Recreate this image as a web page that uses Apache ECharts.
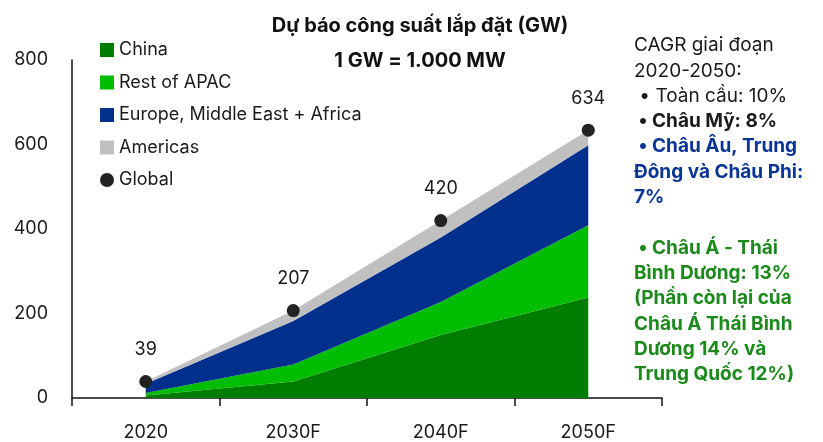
<!DOCTYPE html>
<html>
<head>
<meta charset="utf-8">
<script src="https://cdn.jsdelivr.net/npm/echarts@6/dist/echarts.min.js"></script>
<style>html,body{margin:0;padding:0;background:#fff}#c{width:823px;height:442px}</style>
</head>
<body>
<div id="c"></div>
<script>
const categories = ['2020', '2030F', '2040F', '2050F'];
const china = [6, 39, 149, 238];
const restAPAC = [6, 40, 78, 171];
const emea = [22, 103, 153, 189];
const americas = [5, 25, 40, 36];
const globalTotal = [39, 207, 420, 634];
const yTicks = [0, 200, 400, 600, 800];

const FONT = 'Inter, "Noto Sans", sans-serif';
const chart = echarts.init(document.getElementById('c'));

function areaSeries(name, data, color) {
  return {
    name: name, type: 'line', stack: 'total', data: data,
    symbol: 'none', lineStyle: { width: 0 },
    areaStyle: { color: color, opacity: 1 }, itemStyle: { color: color },
    z: 2
  };
}

chart.setOption({
  animation: false,
  textStyle: { fontFamily: FONT },
  grid: { left: 72, right: 161, top: 60, bottom: 39 },
  legend: {
    orient: 'vertical', left: 95, top: 36,
    itemWidth: 14, itemHeight: 14, itemGap: 14.5,
    textStyle: { fontSize: 18, color: '#1a1a1a', fontFamily: FONT },
    data: [
      { name: 'China', icon: 'rect' },
      { name: 'Rest of APAC', icon: 'rect' },
      { name: 'Europe, Middle East + Africa', icon: 'rect' },
      { name: 'Americas', icon: 'rect' },
      { name: 'Global', icon: 'circle', itemStyle: { color: '#222', opacity: 1 } }
    ]
  },
  xAxis: {
    type: 'category', data: categories, boundaryGap: true,
    axisLine: { lineStyle: { color: '#111', width: 1.5 } },
    axisTick: { show: true, length: 8, lineStyle: { color: '#111', width: 1.5 } },
    axisLabel: { fontSize: 18, color: '#1a1a1a', margin: 26, fontFamily: FONT }
  },
  yAxis: {
    type: 'value', min: yTicks[0], max: yTicks[yTicks.length - 1], interval: 200,
    axisLine: { show: true, lineStyle: { color: '#111', width: 1.5 } },
    axisTick: { show: false },
    splitLine: { show: false },
    axisLabel: { fontSize: 18, color: '#1a1a1a', margin: 24, fontFamily: FONT }
  },
  series: [
    areaSeries('China', china, '#007d00'),
    areaSeries('Rest of APAC', restAPAC, '#00bd00'),
    areaSeries('Europe, Middle East + Africa', emea, '#00308c'),
    areaSeries('Americas', americas, '#c0c0c0'),
    {
      name: 'Global', type: 'scatter', data: globalTotal,
      symbol: 'circle', symbolSize: 13, itemStyle: { color: '#222', opacity: 1 }, z: 5,
      label: { show: true, position: 'top', distance: 16, fontSize: 18, color: '#1a1a1a', opacity: 1, fontFamily: FONT }
    }
  ],
  graphic: [
    {
      type: 'text', z: 10,
      style: {
        x: 420, y: 8,
        text: 'Dự báo công suất lắp đặt (GW)\n1 GW = 1.000 MW',
        font: 'bold 20px ' + FONT, fill: '#111', align: 'center', textAlign: 'center', lineHeight: 35
      }
    },
    {
      type: 'text', left: 634, top: 36, z: 10,
      style: {
        text: '{n|CAGR giai đoạn}\n{n|2020-2050:}\n{n| • Toàn cầu: 10%}\n{b| • Châu Mỹ: 8%}\n{bl| • Châu Âu, Trung}\n{bl|Đông và Châu Phi:}\n{bl|7%}\n{n| }\n{g| • Châu Á - Thái}\n{g|Bình Dương: 13%}\n{g|(Phần còn lại của}\n{g|Châu Á Thái Bình}\n{g|Dương 14% và}\n{g|Trung Quốc 12%)}',
        rich: {
          n: { fontSize: 19, fontFamily: FONT, fill: '#1a1a1a', lineHeight: 25.3 },
          b: { fontSize: 19, fontFamily: FONT, fill: '#1a1a1a', fontWeight: 'bold', lineHeight: 25.3 },
          bl: { fontSize: 19, fontFamily: FONT, fill: '#0a3596', fontWeight: 'bold', lineHeight: 25.3 },
          g: { fontSize: 19, fontFamily: FONT, fill: '#1b8a1b', fontWeight: 'bold', lineHeight: 25.3 }
        }
      }
    }
  ]
});
</script>
</body>
</html>
